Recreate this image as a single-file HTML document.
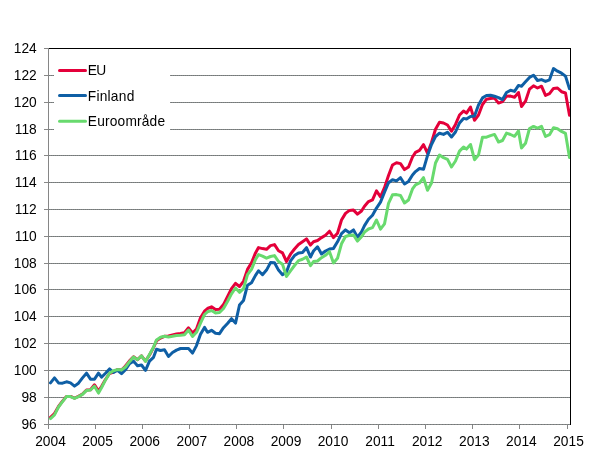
<!DOCTYPE html>
<html><head><meta charset="utf-8"><title>Chart</title>
<style>html,body{margin:0;padding:0;background:#fff}svg{display:block;will-change:transform}text{font-family:"Liberation Sans",sans-serif;font-size:13.75px;fill:#000}</style></head>
<body>
<svg width="605" height="472" viewBox="0 0 605 472">
<rect width="605" height="472" fill="#fff"/>
<g stroke="#888888" stroke-width="1" shape-rendering="crispEdges">
<line x1="44" y1="75.5" x2="570" y2="75.5"/>
<line x1="44" y1="102.5" x2="570" y2="102.5"/>
<line x1="44" y1="129.5" x2="570" y2="129.5"/>
<line x1="44" y1="155.5" x2="570" y2="155.5"/>
<line x1="44" y1="182.5" x2="570" y2="182.5"/>
<line x1="44" y1="209.5" x2="570" y2="209.5"/>
<line x1="44" y1="236.5" x2="570" y2="236.5"/>
<line x1="44" y1="263.5" x2="570" y2="263.5"/>
<line x1="44" y1="289.5" x2="570" y2="289.5"/>
<line x1="44" y1="316.5" x2="570" y2="316.5"/>
<line x1="44" y1="343.5" x2="570" y2="343.5"/>
<line x1="44" y1="370.5" x2="570" y2="370.5"/>
<line x1="44" y1="397.5" x2="570" y2="397.5"/>
</g>
<g stroke="#727a7a" stroke-width="1" stroke-dasharray="1 1" shape-rendering="crispEdges">
<line x1="49" y1="75.5" x2="570" y2="75.5"/>
<line x1="49" y1="102.5" x2="570" y2="102.5"/>
<line x1="49" y1="129.5" x2="570" y2="129.5"/>
<line x1="49" y1="155.5" x2="570" y2="155.5"/>
<line x1="49" y1="182.5" x2="570" y2="182.5"/>
<line x1="49" y1="209.5" x2="570" y2="209.5"/>
<line x1="49" y1="236.5" x2="570" y2="236.5"/>
<line x1="49" y1="263.5" x2="570" y2="263.5"/>
<line x1="49" y1="289.5" x2="570" y2="289.5"/>
<line x1="49" y1="316.5" x2="570" y2="316.5"/>
<line x1="49" y1="343.5" x2="570" y2="343.5"/>
<line x1="49" y1="370.5" x2="570" y2="370.5"/>
<line x1="49" y1="397.5" x2="570" y2="397.5"/>
</g>
<rect x="54" y="58" width="116" height="76" fill="#fff"/>
<clipPath id="pc"><rect x="49" y="49" width="521" height="375.5"/></clipPath>
<g clip-path="url(#pc)">
<path d="M50.50 417.40 L54.50 413.50 L58.50 406.50 L62.50 401.20 L66.50 396.40 L70.50 396.40 L74.50 398.20 L78.50 396.40 L82.50 394.00 L86.50 390.10 L90.50 389.70 L94.50 384.80 L98.50 391.00 L101.50 386.50 L105.50 379.50 L109.50 373.50 L113.50 372.00 L117.50 369.60 L121.50 370.00 L125.50 366.00 L129.50 360.80 L133.50 356.80 L137.50 359.80 L141.50 355.80 L145.50 361.10 L149.50 355.00 L153.50 347.60 L156.50 340.80 L160.50 338.00 L164.50 336.30 L168.50 336.00 L172.50 335.00 L176.50 334.00 L180.50 333.50 L184.50 332.60 L188.50 327.80 L192.50 333.00 L196.50 329.00 L200.50 317.80 L204.50 311.20 L207.50 308.50 L211.50 306.80 L215.50 309.50 L219.50 309.20 L223.50 304.60 L227.50 296.60 L231.50 288.60 L235.50 283.30 L239.50 286.50 L243.50 281.30 L247.50 269.40 L251.50 262.80 L255.50 252.90 L258.50 247.60 L262.50 248.60 L266.50 249.30 L270.50 245.60 L274.50 244.60 L278.50 250.70 L282.50 252.90 L286.50 261.50 L290.50 254.20 L294.50 249.00 L298.50 244.60 L302.50 241.80 L306.50 238.90 L310.50 245.10 L313.50 241.80 L317.50 240.50 L321.50 237.60 L325.50 235.20 L329.50 231.20 L333.50 237.60 L337.50 233.20 L341.50 220.00 L345.50 213.40 L349.50 210.40 L353.50 210.10 L357.50 214.10 L361.50 211.00 L364.50 206.20 L368.50 201.60 L372.50 199.80 L376.50 190.90 L380.50 196.80 L384.50 187.60 L388.50 175.50 L392.50 165.00 L396.50 162.70 L400.50 163.60 L404.50 169.60 L408.50 167.00 L412.50 157.00 L415.50 152.40 L419.50 150.40 L423.50 144.70 L427.50 153.10 L431.50 142.50 L435.50 129.30 L439.50 122.30 L443.50 123.00 L447.50 125.00 L451.50 131.20 L455.50 124.40 L459.50 115.00 L463.50 111.10 L466.50 113.10 L470.50 107.10 L474.50 120.30 L478.50 115.00 L482.50 104.50 L486.50 99.20 L490.50 98.50 L494.50 98.10 L498.50 103.10 L502.50 101.60 L506.50 96.20 L510.50 96.10 L514.50 97.20 L518.50 92.50 L521.50 106.50 L525.50 101.20 L529.50 89.10 L533.50 85.80 L537.50 88.00 L541.50 86.20 L545.50 95.40 L549.50 93.70 L553.50 88.40 L557.50 88.00 L561.50 91.70 L565.50 93.00 L569.50 115.20" fill="none" stroke="#E4003A" stroke-width="3" stroke-linejoin="round" stroke-linecap="round"/>
<path d="M50.50 382.90 L54.50 377.90 L58.50 382.90 L62.50 383.20 L66.50 381.80 L70.50 382.90 L74.50 386.10 L78.50 383.20 L82.50 377.90 L86.50 373.20 L90.50 379.20 L94.50 379.20 L98.50 373.20 L101.50 377.20 L105.50 373.20 L109.50 368.90 L113.50 372.50 L117.50 370.30 L121.50 373.60 L125.50 369.70 L129.50 363.70 L133.50 361.10 L137.50 365.80 L141.50 365.00 L145.50 370.30 L149.50 361.10 L153.50 357.30 L156.50 349.20 L160.50 350.50 L164.50 349.80 L168.50 356.50 L172.50 352.50 L176.50 350.10 L180.50 348.50 L184.50 348.40 L188.50 348.50 L192.50 353.10 L196.50 345.60 L200.50 334.30 L204.50 327.40 L207.50 332.30 L211.50 330.30 L215.50 333.30 L219.50 333.70 L223.50 327.70 L227.50 323.50 L231.50 318.70 L235.50 323.10 L239.50 305.00 L243.50 300.50 L247.50 285.20 L251.50 282.70 L255.50 275.40 L258.50 270.80 L262.50 274.70 L266.50 270.10 L270.50 262.60 L274.50 262.80 L278.50 270.10 L282.50 274.70 L286.50 272.00 L290.50 260.90 L294.50 255.60 L298.50 253.00 L302.50 252.50 L306.50 247.70 L310.50 257.00 L313.50 251.00 L317.50 246.80 L321.50 254.00 L325.50 251.00 L329.50 249.10 L333.50 248.40 L337.50 241.80 L341.50 233.60 L345.50 229.90 L349.50 232.70 L353.50 229.90 L357.50 237.20 L361.50 231.80 L364.50 225.60 L368.50 219.30 L372.50 215.30 L376.50 208.10 L380.50 202.10 L384.50 192.20 L388.50 182.70 L392.50 179.80 L396.50 180.90 L400.50 177.70 L404.50 184.00 L408.50 181.40 L412.50 175.00 L415.50 171.60 L419.50 168.50 L423.50 169.30 L427.50 155.70 L431.50 144.50 L435.50 136.50 L439.50 133.20 L443.50 134.40 L447.50 132.20 L451.50 137.00 L455.50 132.00 L459.50 123.00 L463.50 118.40 L466.50 119.00 L470.50 116.40 L474.50 116.10 L478.50 105.10 L482.50 97.90 L486.50 95.50 L490.50 95.20 L494.50 96.30 L498.50 97.60 L502.50 99.60 L506.50 92.50 L510.50 90.30 L514.50 91.40 L518.50 85.40 L521.50 86.20 L525.50 81.80 L529.50 77.40 L533.50 75.20 L537.50 80.50 L541.50 79.60 L545.50 81.40 L549.50 79.80 L553.50 68.60 L557.50 71.20 L561.50 73.20 L565.50 76.10 L569.50 88.80" fill="none" stroke="#0F5FA5" stroke-width="3" stroke-linejoin="round" stroke-linecap="round"/>
<path d="M50.50 418.60 L54.50 414.90 L58.50 407.00 L62.50 401.70 L66.50 396.60 L70.50 396.60 L74.50 398.40 L78.50 396.60 L82.50 394.40 L86.50 390.40 L90.50 390.00 L94.50 386.20 L98.50 393.10 L101.50 387.80 L105.50 379.90 L109.50 373.20 L113.50 370.80 L117.50 369.60 L121.50 370.00 L125.50 367.00 L129.50 361.70 L133.50 357.10 L137.50 359.80 L141.50 355.80 L145.50 361.50 L149.50 354.50 L153.50 347.20 L156.50 339.90 L160.50 337.30 L164.50 336.30 L168.50 336.90 L172.50 336.30 L176.50 335.60 L180.50 335.30 L184.50 334.80 L188.50 330.00 L192.50 336.50 L196.50 332.30 L200.50 323.10 L204.50 314.50 L207.50 311.80 L211.50 310.50 L215.50 312.90 L219.50 312.50 L223.50 308.50 L227.50 301.50 L231.50 293.80 L235.50 288.00 L239.50 292.30 L243.50 288.60 L247.50 274.70 L251.50 269.40 L255.50 259.50 L258.50 254.60 L262.50 256.20 L266.50 258.20 L270.50 256.50 L274.50 255.60 L278.50 261.50 L282.50 264.20 L286.50 276.50 L290.50 270.80 L294.50 265.50 L298.50 260.60 L302.50 259.30 L306.50 257.00 L310.50 265.60 L313.50 261.60 L317.50 261.00 L321.50 257.70 L325.50 255.30 L329.50 251.70 L333.50 262.90 L337.50 258.30 L341.50 243.80 L345.50 236.50 L349.50 235.20 L353.50 234.90 L357.50 241.10 L361.50 236.80 L364.50 232.20 L368.50 229.00 L372.50 227.60 L376.50 220.00 L380.50 229.20 L384.50 223.90 L388.50 203.40 L392.50 194.80 L396.50 194.60 L400.50 195.50 L404.50 203.00 L408.50 200.00 L412.50 188.90 L415.50 184.90 L419.50 183.00 L423.50 177.70 L427.50 190.20 L431.50 183.00 L435.50 163.00 L439.50 155.00 L443.50 157.70 L447.50 159.40 L451.50 167.00 L455.50 161.00 L459.50 151.10 L463.50 147.10 L466.50 149.10 L470.50 144.50 L474.50 159.70 L478.50 155.00 L482.50 137.20 L486.50 137.20 L490.50 135.60 L494.50 134.40 L498.50 142.00 L502.50 140.50 L506.50 133.10 L510.50 134.50 L514.50 136.30 L518.50 131.00 L521.50 148.00 L525.50 143.30 L529.50 128.50 L533.50 126.40 L537.50 128.10 L541.50 126.40 L545.50 136.50 L549.50 134.70 L553.50 127.70 L557.50 128.80 L561.50 131.40 L565.50 133.40 L569.50 157.50" fill="none" stroke="#68DA6E" stroke-width="3" stroke-linejoin="round" stroke-linecap="round"/>
</g>
<g stroke="#868686" stroke-width="1" shape-rendering="crispEdges">
<line x1="48.5" y1="48" x2="48.5" y2="425"/>
<line x1="44" y1="424.5" x2="570" y2="424.5"/>
<line x1="44" y1="48.5" x2="49" y2="48.5"/>
<line x1="48.5" y1="424" x2="48.5" y2="429"/>
<line x1="95.5" y1="424" x2="95.5" y2="429"/>
<line x1="142.5" y1="424" x2="142.5" y2="429"/>
<line x1="189.5" y1="424" x2="189.5" y2="429"/>
<line x1="236.5" y1="424" x2="236.5" y2="429"/>
<line x1="283.5" y1="424" x2="283.5" y2="429"/>
<line x1="331.5" y1="424" x2="331.5" y2="429"/>
<line x1="378.5" y1="424" x2="378.5" y2="429"/>
<line x1="425.5" y1="424" x2="425.5" y2="429"/>
<line x1="472.5" y1="424" x2="472.5" y2="429"/>
<line x1="519.5" y1="424" x2="519.5" y2="429"/>
<line x1="567.5" y1="424" x2="567.5" y2="429"/>
</g>
<line x1="49" y1="424.5" x2="570" y2="424.5" stroke="#727a7a" stroke-width="1" stroke-dasharray="1 2" shape-rendering="crispEdges"/>
<g stroke="#000" stroke-width="1" shape-rendering="crispEdges">
<line x1="49" y1="48.5" x2="571" y2="48.5"/>
<line x1="570.5" y1="48" x2="570.5" y2="425"/>
</g>
<g text-anchor="end">
<text x="36.7" y="53.1">124</text>
<text x="36.7" y="80.1">122</text>
<text x="36.7" y="107.1">120</text>
<text x="36.7" y="134.1">118</text>
<text x="36.7" y="160.1">116</text>
<text x="36.7" y="187.1">114</text>
<text x="36.7" y="214.1">112</text>
<text x="36.7" y="241.1">110</text>
<text x="36.7" y="268.1">108</text>
<text x="36.7" y="294.1">106</text>
<text x="36.7" y="321.1">104</text>
<text x="36.7" y="348.1">102</text>
<text x="36.7" y="375.1">100</text>
<text x="36.7" y="402.1">98</text>
<text x="36.7" y="429.1">96</text>
</g>
<g text-anchor="middle">
<text x="50.5" y="445.8">2004</text>
<text x="97.6" y="445.8">2005</text>
<text x="144.7" y="445.8">2006</text>
<text x="191.8" y="445.8">2007</text>
<text x="238.9" y="445.8">2008</text>
<text x="286.0" y="445.8">2009</text>
<text x="333.0" y="445.8">2010</text>
<text x="380.1" y="445.8">2011</text>
<text x="427.2" y="445.8">2012</text>
<text x="474.3" y="445.8">2013</text>
<text x="521.4" y="445.8">2014</text>
<text x="568.5" y="445.8">2015</text>
</g>
<line x1="59.5" y1="70.5" x2="85.5" y2="70.5" stroke="#E4003A" stroke-width="3" stroke-linecap="round"/>
<text x="87.8" y="75.0" letter-spacing="-0.70">EU</text>
<line x1="59.5" y1="95.5" x2="85.5" y2="95.5" stroke="#0F5FA5" stroke-width="3" stroke-linecap="round"/>
<text x="87.8" y="100.6" letter-spacing="0.23">Finland</text>
<line x1="59.5" y1="121.3" x2="85.5" y2="121.3" stroke="#68DA6E" stroke-width="3" stroke-linecap="round"/>
<text x="87.8" y="125.5" letter-spacing="0.18">Euroområde</text>
</svg>
</body></html>
